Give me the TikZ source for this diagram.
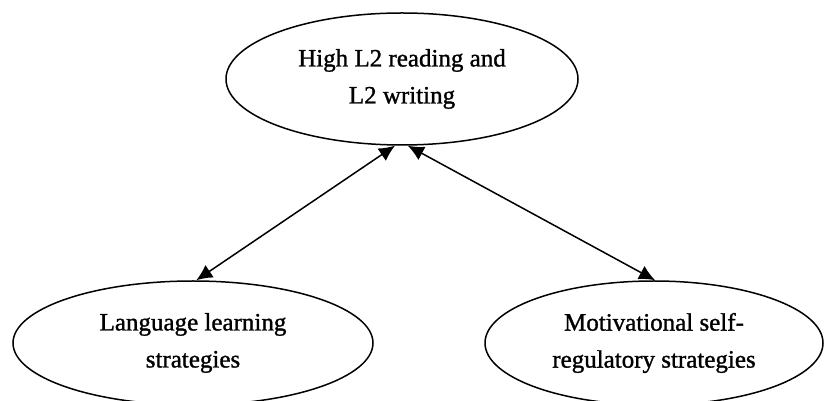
\documentclass[tikz,border=0pt]{standalone}
\usepackage{fontspec}
\setmainfont{Liberation Serif}
\newfontfamily\heavyserif{Liberation Serif}[BoldFont=Liberation Serif,BoldFeatures={FakeBold=1.2}]
\usetikzlibrary{shapes.geometric,arrows.meta}
\begin{document}
\begin{tikzpicture}[x=1pt,y=1pt,
  oval/.style={draw,ellipse,line width=1.5pt,inner sep=0pt,align=center,
    font=\heavyserif\bfseries\fontsize{25}{37}\selectfont},
  link/.style={line width=1.5pt,{Latex[length=16pt,width=15pt]}-{Latex[length=16pt,width=15pt]}}]
\useasboundingbox (0,0) rectangle (824,401);
\node[oval,minimum width=352pt,minimum height=132pt] (top) at (402,322) {High L2 reading and\\L2 writing};
\node[oval,minimum width=360pt,minimum height=124pt] (left) at (193,58) {Language learning\\strategies};
\node[oval,minimum width=338pt,minimum height=124pt] (right) at (654,58) {Motivational self-\\regulatory strategies};
\draw[link] (top.264) -- (left.87);
\draw[link] (top.275) -- (right.89);
\end{tikzpicture}
\end{document}
